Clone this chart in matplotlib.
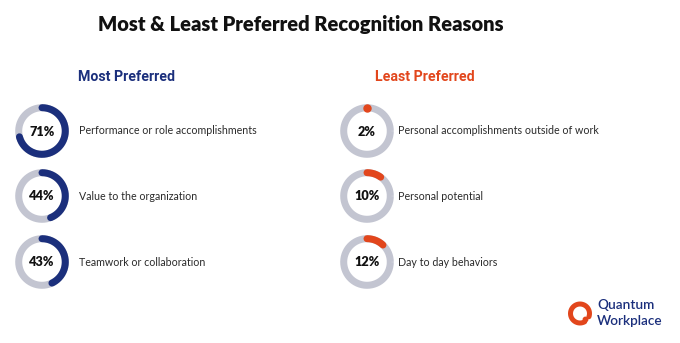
import numpy as np
import matplotlib
matplotlib.use("Agg")
import matplotlib.pyplot as plt

title = "Most & Least Preferred Recognition Reasons"
most_header = "Most Preferred"
least_header = "Least Preferred"
most_labels = ["Performance or role accomplishments", "Value to the organization", "Teamwork or collaboration"]
most_values = [71, 44, 43]
least_labels = ["Personal accomplishments outside of work", "Personal potential", "Day to day behaviors"]
least_values = [2, 10, 12]

BLUE = "#1b2f7c"
RED = "#e2461c"
GRAY = "#c3c5d1"
TEXT = "#2a2a2a"

W, H = 680, 343
fig = plt.figure(figsize=(W / 100, H / 100), dpi=100)
ax = fig.add_axes([0, 0, 1, 1])
ax.set_xlim(0, W)
ax.set_ylim(H, 0)
ax.set_aspect("equal")
ax.axis("off")

R = 23.3
LW = 7 * 72 / 100  # 7 px ring


def donut(cx, cy, val, color):
    t = np.linspace(0, 2 * np.pi, 300)
    ax.plot(cx + R * np.cos(t), cy + R * np.sin(t), color=GRAY, lw=LW, solid_capstyle="butt", zorder=2)
    frac = val / 100.0
    t = np.linspace(0, 2 * np.pi * frac, max(int(300 * frac), 2))
    # start at 12 o'clock, clockwise (y axis inverted)
    xs = cx + R * np.sin(t)
    ys = cy - R * np.cos(t)
    if frac < 0.03:
        ax.plot([cx], [cy - R], "o", color=color, ms=LW, zorder=3)
    else:
        ax.plot(xs, ys, color=color, lw=LW, solid_capstyle="round", zorder=3)
    ax.text(cx, cy + 0.5, f"{val}%", ha="center", va="center", fontsize=9.2, fontweight="heavy",
            family="Lato", color="#111111", zorder=4)


ys = [131, 196, 262]
for y, v, lab in zip(ys, most_values, most_labels):
    donut(42, y, v, BLUE)
    ax.text(79, y, lab, ha="left", va="center", fontsize=7.65, family="Lato", color=TEXT)
for y, v, lab in zip(ys, least_values, least_labels):
    donut(367, y, v, RED)
    ax.text(398, y, lab, ha="left", va="center", fontsize=7.65, family="Lato", color=TEXT)

ax.text(301, 25, title, ha="center", va="center", fontsize=14.5, fontweight="heavy", family="Lato", color="#111111")
ax.text(78, 77, most_header, ha="left", va="center", fontsize=10.2, fontweight="bold", family="Roboto",
        color=BLUE)
ax.text(375, 77, least_header, ha="left", va="center", fontsize=10.2, fontweight="bold", family="Roboto",
        color=RED)

# logo
lcx, lcy, lr = 580, 313.5, 9.5
t = np.linspace(np.deg2rad(60), np.deg2rad(360 + 20), 200)
ax.plot(lcx + lr * np.cos(t), lcy + lr * np.sin(t), color=RED, lw=3.6, solid_capstyle="round")
ax.plot([lcx + 4.5], [lcy + 5], "o", color=RED, ms=3.2)
ax.text(597, 305, "Quantum", ha="left", va="center", fontsize=9.8, fontweight="semibold", family="Lato", color=BLUE)
ax.text(597, 321, "Workplace", ha="left", va="center", fontsize=9.8, fontweight="semibold", family="Lato", color=BLUE)

fig.savefig("out.png", dpi=100, facecolor="white")
